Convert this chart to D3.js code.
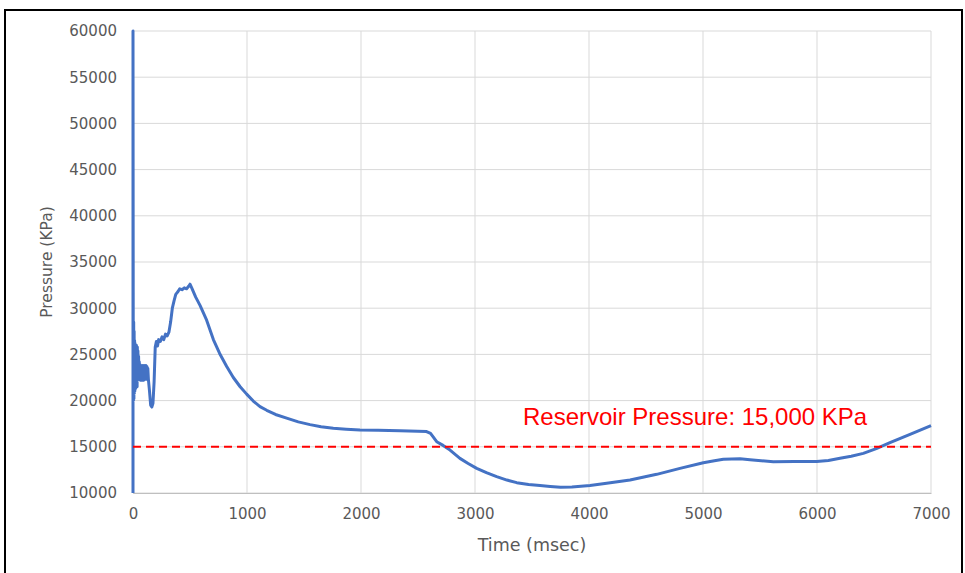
<!DOCTYPE html>
<html>
<head>
<meta charset="utf-8">
<script src="https://cdn.jsdelivr.net/npm/d3@7"></script>
<style>
  html, body { margin: 0; padding: 0; background: #fff; }
  svg { display: block; }
</style>
</head>
<body>
<svg id="chart" width="965" height="573"></svg>
<script>
// Wellbore pressure history (time in ms, pressure in KPa)
const timeMs = [
  0, 0, 2, 4, 6, 8, 10, 12, 14, 16, 18, 20, 22, 24, 26, 28, 30, 32, 34, 36, 38,
  40, 43, 46, 49, 52, 55, 58, 61, 64, 67, 70, 74, 78, 82, 86, 90, 94, 98, 102,
  106, 110, 114, 118, 122, 126, 130, 135, 145, 155, 165, 175, 185, 195, 205,
  215, 225, 240, 255, 270, 285, 300, 315, 330, 345, 360, 375, 395, 410, 430,
  450, 470, 490, 500, 515, 550, 588, 646, 705, 760, 822, 880, 940, 997, 1055,
  1114, 1173, 1250, 1348, 1450, 1553, 1650, 1757, 1870, 1991, 2150, 2342,
  2575, 2610, 2664, 2720, 2781, 2868, 2940, 3015, 3100, 3190, 3280, 3366,
  3470, 3570, 3660, 3750, 3850, 4009, 4155, 4360, 4594, 4798, 5003, 5100,
  5178, 5325, 5412, 5617, 5800, 5997, 6100, 6202, 6300, 6406, 6520, 6640,
  6816, 7000
];
const pressureKPa = [
  10000, 60000, 28800, 20000, 28500, 20200, 27500, 20800, 26500, 21000, 26200,
  21500, 26000, 21300, 25800, 21800, 26000, 22000, 25600, 21500, 25800, 22200,
  25400, 22400, 24800, 22300, 24200, 22400, 23900, 22200, 23800, 22300, 23700,
  22200, 23800, 22300, 23700, 22200, 23800, 22300, 23700, 22400, 23800, 22300,
  23700, 22400, 23500, 22300, 21000, 19500, 19300, 19700, 22000, 25800, 26400,
  25900, 26600, 26400, 26900, 26600, 27200, 27000, 27400, 28500, 30000, 30800,
  31500, 31800, 32100, 32000, 32200, 32100, 32400, 32600, 32200, 31200, 30300,
  28700, 26600, 25100, 23700, 22500, 21500, 20700, 19950, 19350, 18950, 18500,
  18100, 17700, 17400, 17170, 17000, 16900, 16820, 16780, 16750, 16650, 16450,
  15550, 15150, 14650, 13750, 13200, 12670, 12200, 11770, 11400, 11120, 10920,
  10800, 10700, 10620, 10650, 10800, 11050, 11400, 12020, 12670, 13280, 13500,
  13650, 13700, 13600, 13380, 13400, 13400, 13520, 13750, 13980, 14290, 14800,
  15440, 16350, 17300
];
const reservoirPressure = 15000;
const reservoirLabel = "Reservoir Pressure: 15,000 KPa";
const xTicks = [0, 1000, 2000, 3000, 4000, 5000, 6000, 7000];
const yTicks = [10000, 15000, 20000, 25000, 30000, 35000, 40000, 45000, 50000, 55000, 60000];
const xTitle = "Time (msec)";
const yTitle = "Pressure (KPa)";

const svg = d3.select("#chart");
const x = d3.scaleLinear().domain([0, 7000]).range([133, 931]);
const y = d3.scaleLinear().domain([10000, 60000]).range([493, 31]);
const tickFont = "'DejaVu Sans', sans-serif";
const grey = "#595959";

// outer frame
svg.append("rect")
  .attr("x", 5).attr("y", 10).attr("width", 957).attr("height", 600)
  .attr("fill", "none").attr("stroke", "#000").attr("stroke-width", 2);

// gridlines
const grid = svg.append("g");
grid.selectAll("line.h").data(yTicks).join("line")
  .attr("x1", x(0)).attr("x2", x(7000))
  .attr("y1", d => y(d)).attr("y2", d => y(d))
  .attr("stroke", "#d9d9d9").attr("stroke-width", 1);
grid.selectAll("line.v").data(xTicks.slice(1)).join("line")
  .attr("x1", d => x(d)).attr("x2", d => x(d))
  .attr("y1", y(10000)).attr("y2", y(60000))
  .attr("stroke", "#d9d9d9").attr("stroke-width", 1);

// axes
const xAxis = svg.append("g").attr("transform", `translate(0,${y(10000)})`)
  .call(d3.axisBottom(x).tickValues(xTicks).tickSize(0).tickPadding(15).tickFormat(d3.format("d")));
const yAxis = svg.append("g").attr("transform", `translate(${x(0)},0)`)
  .call(d3.axisLeft(y).tickValues(yTicks).tickSize(0).tickPadding(16).tickFormat(d3.format("d")));
[xAxis, yAxis].forEach(a => {
  a.select(".domain").attr("stroke", "#bfbfbf");
  a.selectAll("text").attr("fill", grey).style("font-family", tickFont).style("font-size", "15px");
});

// axis titles
svg.append("text").attr("x", (x(0) + x(7000)) / 2).attr("y", 551)
  .attr("text-anchor", "middle").attr("fill", grey)
  .style("font-family", tickFont).style("font-size", "17.5px").text(xTitle);
svg.append("text").attr("transform", `translate(52,${(y(10000) + y(60000)) / 2}) rotate(-90)`)
  .attr("text-anchor", "middle").attr("fill", grey)
  .style("font-family", tickFont).style("font-size", "15.5px").text(yTitle);

// pressure curve
const pts = timeMs.map((t, i) => [t, pressureKPa[i]]);
svg.append("path").datum(pts)
  .attr("d", d3.line().x(d => x(d[0])).y(d => y(d[1])))
  .attr("fill", "none").attr("stroke", "#4472c4").attr("stroke-width", 3)
  .attr("stroke-linejoin", "round");

// reservoir pressure reference line
svg.append("line")
  .attr("x1", x(0)).attr("x2", x(7000))
  .attr("y1", y(reservoirPressure)).attr("y2", y(reservoirPressure))
  .attr("stroke", "#ff0000").attr("stroke-width", 2).attr("stroke-dasharray", "8,5");
svg.append("text").attr("x", 523).attr("y", 425)
  .attr("fill", "#ff0000").style("font-family", "'Liberation Sans', Arial, sans-serif")
  .style("font-size", "24px").text(reservoirLabel);
</script>
</body>
</html>
